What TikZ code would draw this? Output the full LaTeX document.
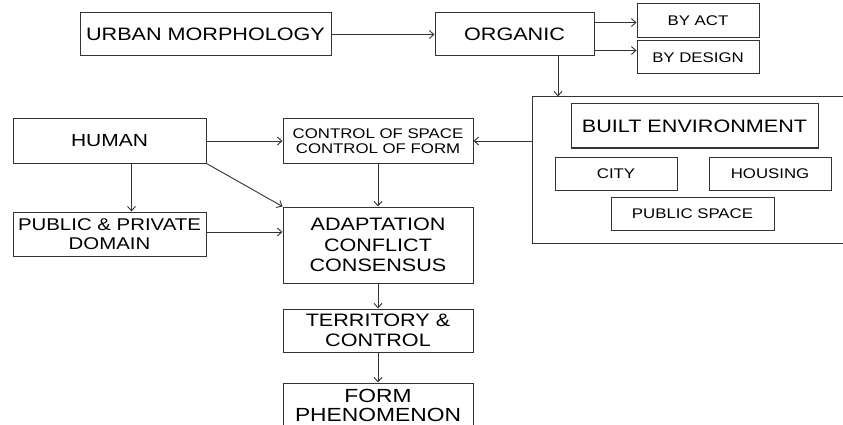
\documentclass[tikz,border=0pt]{standalone}
\usepackage{fontspec}
\setmainfont{Liberation Sans}[FakeStretch=1.2]
\usetikzlibrary{arrows.meta}

\begin{document}
\begin{tikzpicture}[x=1pt, y=-1pt]
	\tikzset{boite/.style={rectangle, draw=black!80, line width=1pt, inner sep=0pt, align=center},
	         fleche/.style={>={Straight Barb[length=4.5pt, width=8pt]}, ->, line width=0.9pt, draw=black!80}};
	\useasboundingbox (0,0) rectangle (843,425);
	\clip (0,0) rectangle (843,425);

	\node[boite, minimum width=251, minimum height=43, font=\fontsize{18}{20}\selectfont] (urban)    at (205.5,  34.5) {URBAN MORPHOLOGY};
	\node[boite, minimum width=159, minimum height=43, font=\fontsize{18}{20}\selectfont] (organic)  at (514.5,  34.5) {ORGANIC};
	\node[boite, minimum width=122, minimum height=34, font=\fontsize{14}{16}\selectfont] (byact)    at (  698,    21) {BY ACT};
	\node[boite, minimum width=122, minimum height=33, font=\fontsize{14}{16}\selectfont] (bydesign) at (  698,  57.5) {BY DESIGN};

	\node[boite, minimum width=320, minimum height=146] (built) at (692, 170) {};
	\node[boite, minimum width=247, minimum height=44, font=\fontsize{18}{20}\selectfont] (builtenv) at (694.5,   126) {BUILT ENVIRONMENT};
	\node[boite, minimum width=122, minimum height=33, font=\fontsize{14}{16}\selectfont] (city)     at (  616, 173.5) {CITY};
	\node[boite, minimum width=122, minimum height=33, font=\fontsize{14}{16}\selectfont] (housing)  at (  770, 173.5) {HOUSING};
	\node[boite, minimum width=163, minimum height=33, font=\fontsize{14}{16}\selectfont] (pubspace) at (692.5, 213.5) {PUBLIC SPACE};

	\node[boite, minimum width=193, minimum height=44, font=\fontsize{17.5}{20}\selectfont] (human)   at (109.5,   141) {HUMAN};
	\node[boite, minimum width=190, minimum height=44, font=\fontsize{14}{15}\selectfont]   (control) at (  378,   141) {CONTROL OF SPACE\\CONTROL OF FORM};
	\node[boite, minimum width=193, minimum height=44, font=\fontsize{17}{19}\selectfont]   (domain)  at (109.5,   234) {PUBLIC \& PRIVATE\\DOMAIN};
	\node[boite, minimum width=190, minimum height=76, font=\fontsize{18}{20.7}\selectfont] (adapt)   at (  378,   245) {ADAPTATION\\CONFLICT\\CONSENSUS};
	\node[boite, minimum width=190, minimum height=43, font=\fontsize{18}{20}\selectfont]   (territory) at (378, 330.5) {TERRITORY \&\\CONTROL};
	\node[boite, minimum width=190, minimum height=44, font=\fontsize{19}{19}\selectfont]   (form)    at (  378,   405) {FORM\\PHENOMENON};

	\draw[fleche] (urban) -- (organic);
	\draw[fleche] ([yshift=-10pt]organic.north east) -- ([yshift=-10pt]organic.north east -| byact.west);
	\draw[fleche] ([yshift=6pt]organic.south east) -- ([yshift=6pt]organic.south east -| bydesign.west);
	\draw[fleche] ([xshift=43.5pt]organic.south) -- ([xshift=43.5pt]organic.south |- built.north);
	\draw[fleche] (built.west |- control.east) -- (control.east);

	\draw[fleche] (human) -- (control);
	\draw[fleche] ([xshift=22pt]human.south) -- ([xshift=22pt]domain.north);
	\draw[fleche] (human.south east) -- (adapt.north west);
	\draw[fleche] (control) -- (adapt);
	\draw[fleche] ([yshift=2pt]domain.east) -- ([yshift=2pt]domain.east -| adapt.west);
	\draw[fleche] (adapt) -- (territory);
	\draw[fleche] (territory) -- (form);

\end{tikzpicture}
\end{document}
